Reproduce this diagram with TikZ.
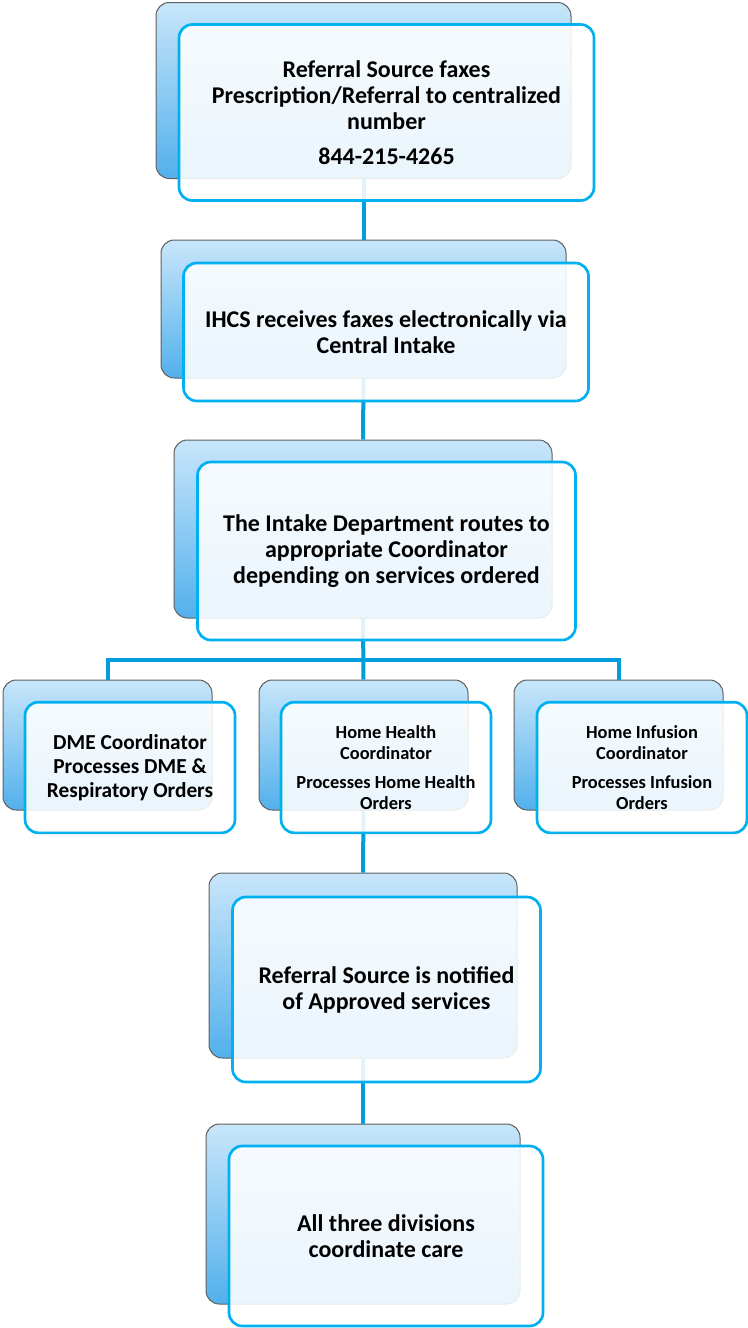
\documentclass[tikz,border=0pt]{standalone}
\usepackage{fontspec}
\setmainfont{Carlito}
\usepackage{xcolor}
\definecolor{linkblue}{RGB}{0,158,219}
\definecolor{frameblue}{RGB}{0,176,240}
\definecolor{shadetop}{RGB}{200,230,250}
\definecolor{shadebot}{RGB}{82,176,236}
\definecolor{backgray}{RGB}{95,95,95}

\begin{document}
\begin{tikzpicture}[x=0.75pt,y=0.75pt,yscale=-1,xscale=1,
        backbox/.style={draw=backgray, line width=0.75pt, rounded corners=10pt, top color=shadetop, bottom color=shadebot, inner sep=0pt},
        frontbox/.style={draw=frameblue, line width=2pt, rounded corners=10pt, fill=white, fill opacity=0.88, text opacity=1, align=center, inner sep=0pt, font=\bfseries\fontsize{18}{19.5}\selectfont},
        smallfront/.style={frontbox, font=\bfseries\fontsize{13.8}{15.7}\selectfont},
        link/.style={draw=linkblue, line width=3pt}]
        %set diagram size 748 x 1328
        \useasboundingbox (0,0) rectangle (748,1328);
        
        %Shape: Back panels
        \node [backbox, minimum width=311.25pt, minimum height=132pt] (faxbg) at (363.5,90.5) {};
        \node [backbox, minimum width=303.75pt, minimum height=103.5pt] (ihcsbg) at (363.5,309) {};
        \node [backbox, minimum width=283.5pt, minimum height=133.5pt] (routebg) at (363,529) {};
        \node [backbox, minimum width=156.75pt, minimum height=97.5pt] (dmebg) at (107.5,745) {};
        \node [backbox, minimum width=156.75pt, minimum height=97.5pt] (hhbg) at (363.5,745) {};
        \node [backbox, minimum width=156.75pt, minimum height=97.5pt] (infbg) at (618.5,745) {};
        \node [backbox, minimum width=231pt, minimum height=138.75pt] (notebg) at (363,965.5) {};
        \node [backbox, minimum width=235.5pt, minimum height=135pt] (allbg) at (363,1214) {};
        
        %Straight Lines
        \coordinate (bus) at (363.5,660);
        \draw [link] (faxbg.south) -- (ihcsbg.north);
        \draw [link] (ihcsbg.south) -- (routebg.north);
        \draw [link] (routebg.south) -- (hhbg.north);
        \draw [link, line join=miter] (dmebg.north) |- (bus) -| (infbg.north);
        \draw [link] (hhbg.south) -- (notebg.north);
        \draw [link] (notebg.south) -- (allbg.north);
        
        % Text Node
        \node [frontbox, minimum width=311.25pt, minimum height=132pt] (fax) at (386.5,112.5) {Referral Source faxes\\Prescription/Referral to centralized\\number\\[7pt]844-215-4265};
        % Text Node
        \node [frontbox, minimum width=303.75pt, minimum height=103.5pt] (ihcs) at (386,332) {IHCS receives faxes electronically via\\Central Intake};
        % Text Node
        \node [frontbox, minimum width=283.5pt, minimum height=133.5pt] (route) at (386.5,551) {The Intake Department routes to\\appropriate Coordinator\\depending on services ordered};
        % Text Node
        \node [frontbox, font=\bfseries\fontsize{16}{18}\selectfont, minimum width=157.5pt, minimum height=98pt] (dme) at (130,767.5) {DME Coordinator\\Processes DME \&\\Respiratory Orders};
        % Text Node
        \node [smallfront, minimum width=157.5pt, minimum height=98pt] (hh) at (386,767.5) {Home Health\\Coordinator\\[6pt]Processes Home Health\\Orders};
        % Text Node
        \node [smallfront, minimum width=157.5pt, minimum height=98pt] (inf) at (642,767.5) {Home Infusion\\Coordinator\\[6pt]Processes Infusion\\Orders};
        % Text Node
        \node [frontbox, minimum width=231pt, minimum height=138.75pt] (note) at (386.5,989.5) {Referral Source is notified\\of Approved services};
        % Text Node
        \node [frontbox, minimum width=235.5pt, minimum height=135pt] (all) at (386,1236) {All three divisions\\coordinate care};
        
\end{tikzpicture}
\end{document}
